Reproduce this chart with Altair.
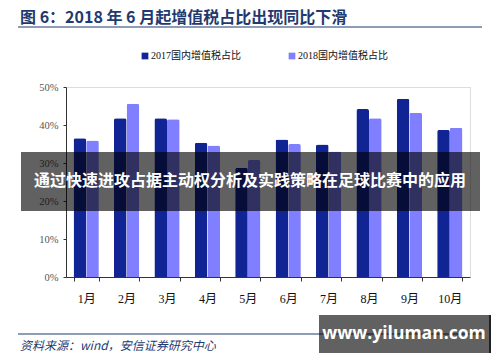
import altair as alt
import pandas as pd

months = ["1月", "2月", "3月", "4月", "5月", "6月", "7月", "8月", "9月", "10月"]
series = ["2017国内增值税占比", "2018国内增值税占比"]
v2017 = [36.5, 41.8, 41.8, 35.3, 28.7, 36.2, 34.9, 44.2, 46.9, 38.7]
v2018 = [35.9, 45.6, 41.5, 34.6, 30.8, 35.0, 33.0, 41.8, 43.2, 39.3]
y_ticks = [0, 10, 20, 30, 40, 50]
colors = ["#102493", "#7F7FFF"]

title_text = "图 6：2018 年 6 月起增值税占比出现同比下滑"
source_text = "资料来源：wind，安信证券研究中心"
banner_text = "通过快速进攻占据主动权分析及实践策略在足球比赛中的应用"
site_text = "www.yiluman.com"

rows = []
for m, a, b in zip(months, v2017, v2018):
    rows.append({"month": m, "series": series[0], "value": a})
    rows.append({"month": m, "series": series[1], "value": b})
df = pd.DataFrame(rows)

W, H = 404, 190
SERIF = "Liberation Serif, Times New Roman, Noto Sans CJK SC"
CJK = "Noto Sans CJK SC"
NAVY = "#1F3A6E"

bars = alt.Chart(df).mark_bar(cornerRadiusTopLeft=2, cornerRadiusTopRight=2).encode(
    x=alt.X("month:N", sort=months, title=None,
            scale=alt.Scale(paddingInner=0.375, paddingOuter=0.1875),
            axis=alt.Axis(labelAngle=0, tickBand="extent", tickSize=4, labelPadding=12,
                          labelFont=SERIF, labelFontSize=12, labelColor="#111",
                          domainColor="#333", tickColor="#333")),
    xOffset=alt.XOffset("series:N", sort=series),
    y=alt.Y("value:Q", scale=alt.Scale(domain=[0, 50]), title=None,
            axis=alt.Axis(values=y_ticks, labelExpr="datum.value + '%'", grid=False,
                          tickSize=3, labelPadding=5, labelFont=SERIF, labelFontSize=10.5,
                          labelColor="#555", domainColor="#333", tickColor="#333")),
    color=alt.Color("series:N", scale=alt.Scale(domain=series, range=colors),
                    legend=alt.Legend(title=None, orient="none", legendX=74, legendY=-36,
                                      direction="horizontal", symbolType="square",
                                      symbolSize=45, symbolStrokeWidth=0,
                                      labelFont=SERIF, labelFontSize=10, labelColor="#111",
                                      columnPadding=46, labelOffset=1)),
)

one = pd.DataFrame({"k": [0]})

def text_mark(txt, x, y, **kw):
    return alt.Chart(pd.DataFrame({"t": [txt]})).mark_text(**kw).encode(
        x=alt.value(x), y=alt.value(y), text="t:N")

def rule(x, x2, y, y2=None, color=NAVY, w=1.2):
    enc = dict(x=alt.value(x), x2=alt.value(x2), y=alt.value(y))
    enc["y2"] = alt.value(y if y2 is None else y2)
    return alt.Chart(one).mark_rule(color=color, strokeWidth=w).encode(**enc)

title = text_mark(title_text, -46, -69, align="left", baseline="middle", font=CJK,
                  fontSize=16, fontWeight="bold", color=NAVY)
top_line = rule(-48, 416, -60)
bottom_line = rule(-48, 416, 247)
source = text_mark(source_text, -46, 259, align="left", baseline="middle", font=CJK,
                   fontSize=12, fontStyle="italic", color=NAVY)

banner = alt.Chart(one).mark_rect(color="black", opacity=0.62).encode(
    x=alt.value(-45), x2=alt.value(414), y=alt.value(65), y2=alt.value(124))
banner_t = text_mark(banner_text, 184, 94, align="center", baseline="middle", font=CJK,
                     fontSize=16, fontWeight="bold", color="white")

site = alt.Chart(one).mark_rect(color="black", opacity=0.62).encode(
    x=alt.value(253), x2=alt.value(424), y=alt.value(228), y2=alt.value(266))
site_edge = rule(424, 424, 228, 266, color="#222", w=2)
site_t = text_mark(site_text, 338, 247, align="center", baseline="middle",
                   font="Open Sans, DejaVu Sans", fontSize=17.5, fontWeight="bold", color="white")

chart = alt.layer(bars, title, top_line, bottom_line, source, banner, banner_t,
                  site, site_edge, site_t).properties(
    width=W, height=H,
    autosize=alt.AutoSizeParams(type="none"),
    padding={"left": 58, "top": 79, "right": 22, "bottom": 77},
).configure_view(stroke=None).configure(background="white")

chart.save("out.html", embed_options={"renderer": "svg", "actions": False})
